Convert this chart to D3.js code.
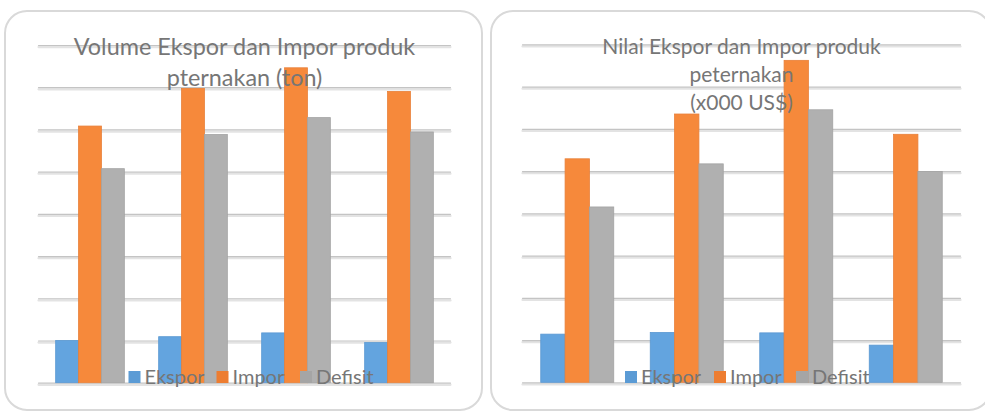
<!DOCTYPE html>
<html>
<head>
<meta charset="utf-8">
<script src="https://cdn.jsdelivr.net/npm/d3@7/dist/d3.min.js"></script>
<style>
  html, body { margin: 0; padding: 0; background: #ffffff; }
  svg { display: block; }
  text { font-family: Lato, "Open Sans", sans-serif; fill: #767676; }
</style>
</head>
<body>
<svg id="chart" width="985" height="411"></svg>
<script>
// Four periods per chart (no category labels shown on the axis)
const categories = ["P1", "P2", "P3", "P4"];
const seriesNames = ["Ekspor", "Impor", "Defisit"];
// Values in gridline units (axis has 8 unlabeled intervals)
const gridTicks = [0, 1, 2, 3, 4, 5, 6, 7, 8];

// Volume (ton)
const volumeEkspor  = [1.00, 1.09, 1.18, 0.95];
const volumeImpor   = [6.08, 6.97, 7.46, 6.90];
const volumeDefisit = [5.07, 5.88, 6.28, 5.94];

// Nilai (x000 US$)
const nilaiEkspor  = [1.14, 1.18, 1.17, 0.88];
const nilaiImpor   = [5.29, 6.35, 7.62, 5.87];
const nilaiDefisit = [4.15, 5.17, 6.45, 4.99];

const titleVolume = ["Volume Ekspor dan Impor produk", "pternakan (ton)"];
const titleNilai  = ["Nilai Ekspor dan Impor produk", "peternakan", "(x000 US$)"];

const barColors    = { Ekspor: "#63a4df", Impor: "#f6893b", Defisit: "#b0b0b0" };
const barEdges     = { Ekspor: "#5a98d2", Impor: "#e8803a", Defisit: "#a3a3a3" };
const legendColors = { Ekspor: "#5b9bd5", Impor: "#ed7d31", Defisit: "#a5a5a5" };

const svg = d3.select("#chart");

function drawPanel(cfg) {
  const g = svg.append("g");

  // rounded chart-area frame
  g.append("rect")
    .attr("x", cfg.frame.x).attr("y", cfg.frame.y)
    .attr("width", cfg.frame.w).attr("height", cfg.frame.h)
    .attr("rx", 22).attr("ry", 22)
    .attr("fill", "#ffffff")
    .attr("stroke", "#d9d9d9").attr("stroke-width", 2);

  const x0 = d3.scaleBand()
    .domain(categories)
    .range([cfg.left, cfg.right])
    .paddingInner(1 / 3)
    .paddingOuter(1 / 6);
  const x1 = d3.scaleBand()
    .domain(seriesNames)
    .range([0, x0.bandwidth()]);
  const y = d3.scaleLinear()
    .domain([0, 8])
    .range([cfg.bottom, cfg.top]);

  // gridlines: darker upper line with a lighter band just below
  const grid = d3.axisLeft(y).tickValues(gridTicks)
    .tickSize(-(cfg.right - cfg.left)).tickFormat("");
  g.append("g")
    .attr("transform", `translate(${cfg.left},1.6)`)
    .call(grid)
    .call(s => s.select(".domain").remove())
    .call(s => s.selectAll("line").attr("stroke", "#e3e3e3").attr("stroke-width", 2.2)
      .attr("stroke-linecap", "round"));
  g.append("g")
    .attr("transform", `translate(${cfg.left},0)`)
    .call(grid)
    .call(s => s.select(".domain").remove())
    .call(s => s.selectAll("line").attr("stroke", "#c4c4c4").attr("stroke-width", 1.2)
      .attr("stroke-linecap", "round"));

  // clustered bars
  const rows = categories.map((c, i) => ({
    cat: c,
    vals: seriesNames.map(s => ({ key: s, value: cfg.data[s][i] }))
  }));
  const groups = g.append("g").selectAll("g")
    .data(rows).join("g")
    .attr("transform", d => `translate(${x0(d.cat)},0)`);
  groups.selectAll("rect")
    .data(d => d.vals).join("rect")
    .attr("x", d => x1(d.key))
    .attr("y", d => y(d.value))
    .attr("width", x1.bandwidth())
    .attr("height", d => y(0) - y(d.value))
    .attr("fill", d => barColors[d.key])
    .attr("stroke", d => barEdges[d.key])
    .attr("stroke-width", 0.8);

  // title, drawn over the plot
  const title = g.append("text")
    .attr("text-anchor", "middle")
    .style("font-size", cfg.titleSize + "px");
  cfg.title.forEach((line, i) => {
    title.append("tspan")
      .attr("x", (cfg.left + cfg.right) / 2)
      .attr("y", cfg.titleY + i * cfg.titleLead)
      .text(line);
  });

  // legend (drawn over the bars)
  const lg = g.append("g").style("font-size", "20px");
  let lx = cfg.legendX;
  seriesNames.forEach((s, i) => {
    lg.append("rect")
      .attr("x", lx).attr("y", cfg.legendY - 10)
      .attr("width", 12).attr("height", 12)
      .attr("fill", legendColors[s]);
    lg.append("text")
      .attr("x", lx + 16).attr("y", cfg.legendY + 2.5)
      .text(s);
    lx = cfg.legendX + cfg.legendOffsets[i];
  });
}

drawPanel({
  frame: { x: 5, y: 11, w: 477, h: 399 },
  left: 38.5, right: 450.5, top: 45, bottom: 382.7,
  title: titleVolume, titleSize: 23.4, titleY: 54.5, titleLead: 31,
  data: { Ekspor: volumeEkspor, Impor: volumeImpor, Defisit: volumeDefisit },
  legendX: 128.5, legendY: 381, legendOffsets: [88, 171.5, 0]
});

drawPanel({
  frame: { x: 491, y: 11, w: 500, h: 399 },
  left: 522.5, right: 960.5, top: 44.3, bottom: 382.3,
  title: titleNilai, titleSize: 21, titleY: 53.5, titleLead: 28,
  data: { Ekspor: nilaiEkspor, Impor: nilaiImpor, Defisit: nilaiDefisit },
  legendX: 625, legendY: 381, legendOffsets: [89, 171, 0]
});
</script>
</body>
</html>
